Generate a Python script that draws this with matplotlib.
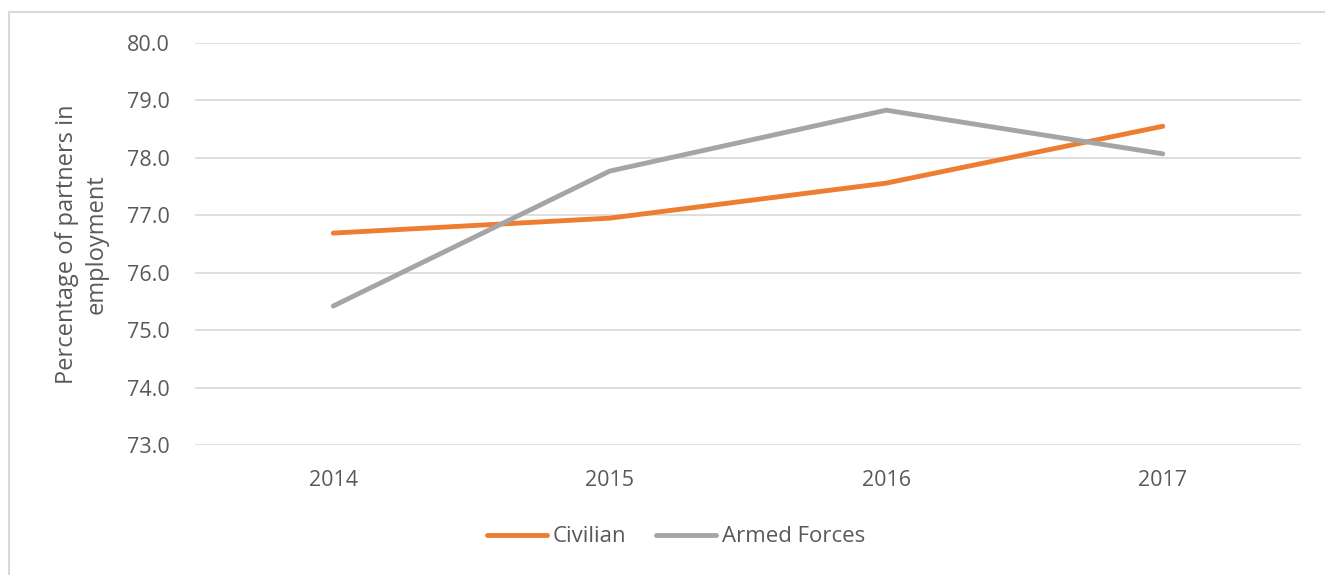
import matplotlib.pyplot as plt
from matplotlib.patches import Rectangle

years = ["2014", "2015", "2016", "2017"]
civilian = [76.69, 76.95, 77.56, 78.55]
armed_forces = [75.42, 77.77, 78.83, 78.07]
y_ticks = [73.0, 74.0, 75.0, 76.0, 77.0, 78.0, 79.0, 80.0]

plt.rcParams["font.family"] = ["Open Sans", "DejaVu Sans"]

fig = plt.figure(figsize=(13.25, 5.75), dpi=100)
W, H = 1325, 575

# chart area border (runs off the right and bottom edge)
fig.patches.append(Rectangle((9 / W, -0.05), 1.2, 1 - 12 / H + 0.05,
                             transform=fig.transFigure, fill=False,
                             edgecolor="#D9D9D9", linewidth=1.5))

ax = fig.add_axes([195 / W, 1 - 445 / H, (1301 - 195) / W, (445 - 43) / H])

x = range(len(years))
ax.plot(x, civilian, color="#ED7D31", linewidth=3.5, solid_capstyle="round", label="Civilian")
ax.plot(x, armed_forces, color="#A5A5A5", linewidth=3.5, solid_capstyle="round", label="Armed Forces")

ax.set_xlim(-0.5, len(years) - 0.5)
ax.set_ylim(73, 80)
ax.set_yticks(y_ticks)
ax.set_yticklabels([f"{v:.1f}" for v in y_ticks])
ax.set_xticks(list(x))
ax.set_xticklabels(years)
ax.grid(axis="y", color="#D9D9D9", linewidth=1.2)
ax.set_axisbelow(True)
for s in ax.spines.values():
    s.set_visible(False)
ax.tick_params(length=0, colors="#595959", labelsize=15.5)
ax.tick_params(axis="y", pad=18)
ax.tick_params(axis="x", pad=18)

ax.set_ylabel("Percentage of partners in\nemployment", fontsize=17, color="#595959",
              labelpad=13, linespacing=1.35)

fig.legend(loc="center", bbox_to_anchor=(676 / W, 1 - 537 / H), ncol=2, frameon=False,
           fontsize=16, labelcolor="#595959", handlelength=2.7, handletextpad=0.27,
           columnspacing=1.3)

fig.savefig("out.png", dpi=100)
